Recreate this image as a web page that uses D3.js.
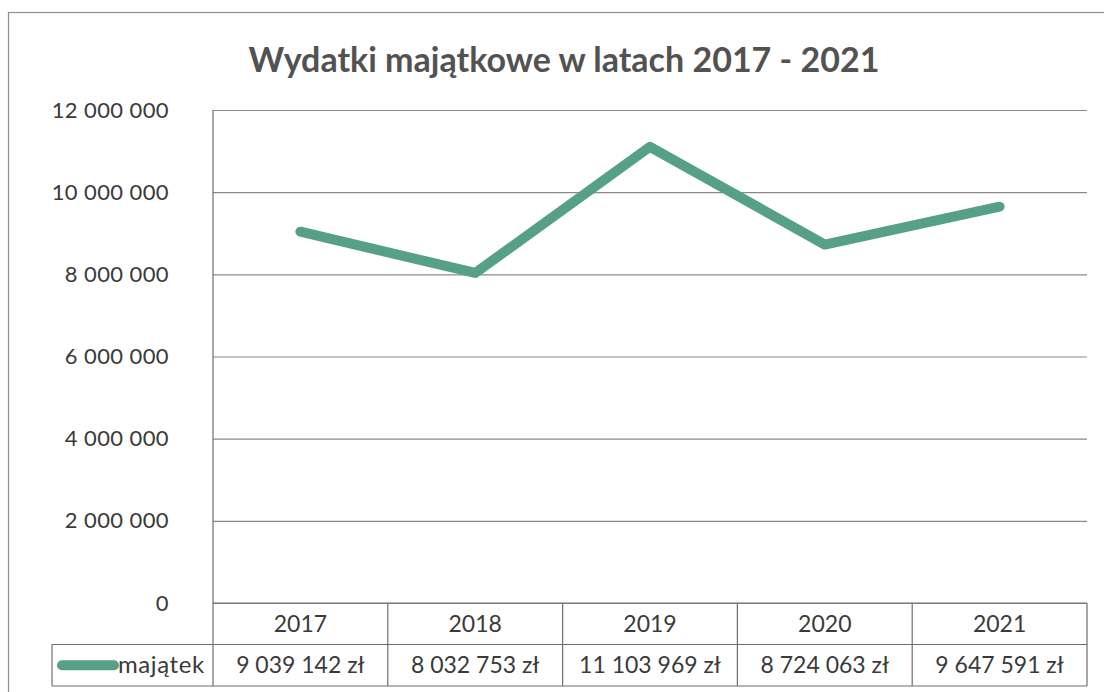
<!DOCTYPE html>
<html>
<head>
<meta charset="utf-8">
<script src="https://cdn.jsdelivr.net/npm/d3@7"></script>
<style>
  body { margin: 0; background: #fff; }
  svg text { font-family: Lato, "Open Sans", sans-serif; }
</style>
</head>
<body>
<div id="chart"></div>
<script>
const title = "Wydatki majątkowe w latach 2017 - 2021";
const seriesName = "majątek";
const years = ["2017", "2018", "2019", "2020", "2021"];
const values = [9039142, 8032753, 11103969, 8724063, 9647591];
const yTicks = [0, 2000000, 4000000, 6000000, 8000000, 10000000, 12000000];

const width = 1104;
const height = 692;
const plotLeft = 213, plotRight = 1087;
const plotTop = 110, plotBottom = 603;
const rowH = 41.5;
const lineColor = "#56a086";
const gridColor = "#8a8a8a";
const tableColor = "#6e6e6e";
const textColor = "#3a3a3a";

const pl = d3.formatLocale({ decimal: ",", thousands: " ", grouping: [3], currency: ["", " zł"] });
const fmtNum = pl.format(",d");
const fmtZl = pl.format("$,d");

const svg = d3.select("#chart").append("svg")
  .attr("width", width)
  .attr("height", height);

// outer chart frame (runs past the right and bottom edge of the scan)
svg.append("rect")
  .attr("x", 8.5).attr("y", 12.5)
  .attr("width", 1110).attr("height", 700)
  .attr("fill", "none")
  .attr("stroke", "#8f8f8f")
  .attr("stroke-width", 1.2);

svg.append("text")
  .attr("x", 564).attr("y", 72)
  .attr("text-anchor", "middle")
  .attr("font-size", 34)
  .attr("font-weight", "bold")
  .attr("fill", "#525252")
  .text(title);

const x = d3.scaleBand().domain(years).range([plotLeft, plotRight]);
const y = d3.scaleLinear().domain([0, 12000000]).range([plotBottom, plotTop]);

// gridlines + y labels
const yAxis = d3.axisLeft(y).tickValues(yTicks).tickFormat(fmtNum)
  .tickSize(-(plotRight - plotLeft)).tickPadding(44);
const gy = svg.append("g")
  .attr("transform", "translate(" + plotLeft + ",0)")
  .call(yAxis);
gy.select(".domain").remove();
gy.selectAll(".tick line")
  .attr("stroke", gridColor)
  .attr("stroke-width", 1.2);
gy.selectAll(".tick text")
  .attr("font-size", 22)
  .attr("fill", textColor)
  .attr("font-family", "Lato, sans-serif")
  .attr("letter-spacing", 0.4);

// left plot border down through the table
svg.append("line")
  .attr("x1", plotLeft).attr("x2", plotLeft)
  .attr("y1", plotTop).attr("y2", plotBottom + 2 * rowH)
  .attr("stroke", tableColor).attr("stroke-width", 1.2);

// data table
const tableG = svg.append("g");
const rows = [plotBottom, plotBottom + rowH, plotBottom + 2 * rowH];
rows.forEach(function (ry, i) {
  tableG.append("line")
    .attr("x1", i === 0 ? plotLeft : 52).attr("x2", plotRight)
    .attr("y1", ry).attr("y2", ry)
    .attr("stroke", tableColor).attr("stroke-width", 1.2);
});
years.forEach(function (yr) {
  tableG.append("line")
    .attr("x1", x(yr) + x.bandwidth()).attr("x2", x(yr) + x.bandwidth())
    .attr("y1", plotBottom).attr("y2", plotBottom + 2 * rowH)
    .attr("stroke", tableColor).attr("stroke-width", 1.2);
});
tableG.append("line")
  .attr("x1", 52).attr("x2", 52)
  .attr("y1", plotBottom + rowH).attr("y2", plotBottom + 2 * rowH)
  .attr("stroke", tableColor).attr("stroke-width", 1.2);

tableG.selectAll(".yr")
  .data(years)
  .join("text")
  .attr("x", d => x(d) + x.bandwidth() / 2)
  .attr("y", plotBottom + rowH / 2 + 8)
  .attr("text-anchor", "middle")
  .attr("font-size", 23)
  .attr("fill", textColor)
  .text(d => d);

tableG.selectAll(".val")
  .data(values)
  .join("text")
  .attr("x", (d, i) => x(years[i]) + x.bandwidth() / 2)
  .attr("y", plotBottom + rowH * 1.5 + 8)
  .attr("text-anchor", "middle")
  .attr("font-size", 23)
  .attr("fill", textColor)
  .text(d => fmtZl(d));

// legend key in the table
tableG.append("line")
  .attr("x1", 62).attr("x2", 114)
  .attr("y1", plotBottom + rowH * 1.5).attr("y2", plotBottom + rowH * 1.5)
  .attr("stroke", lineColor).attr("stroke-width", 10)
  .attr("stroke-linecap", "round");
tableG.append("text")
  .attr("x", 118).attr("y", plotBottom + rowH * 1.5 + 8)
  .attr("text-anchor", "start")
  .attr("font-size", 24)
  .attr("letter-spacing", 0.6)
  .attr("fill", textColor)
  .text(seriesName);

// the line
const line = d3.line()
  .x((d, i) => x(years[i]) + x.bandwidth() / 2)
  .y(d => y(d));

svg.append("path")
  .datum(values)
  .attr("fill", "none")
  .attr("stroke", lineColor)
  .attr("stroke-width", 10)
  .attr("stroke-linejoin", "round")
  .attr("stroke-linecap", "round")
  .attr("d", line);
</script>
</body>
</html>
